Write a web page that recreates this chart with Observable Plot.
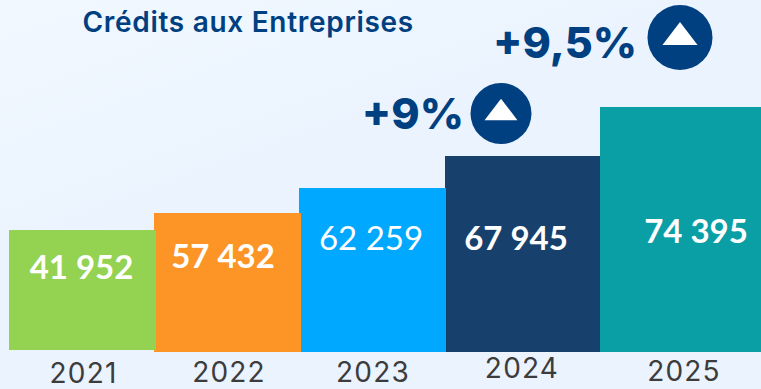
<!DOCTYPE html>
<html><head><meta charset="utf-8">
<script src="https://cdn.jsdelivr.net/npm/d3@7"></script>
<script src="https://cdn.jsdelivr.net/npm/@observablehq/plot@0.6"></script>
<style>
html,body{margin:0;padding:0;background:#eaf3fe}
svg{display:block;background:linear-gradient(160deg,#f1f8ff 0%,#eaf3fe 45%,#eaf3fe 100%)}
</style></head><body>
<script>
const titleText = "Crédits aux Entreprises";
const years = [2021, 2022, 2023, 2024, 2025];
const credits = [41952, 57432, 62259, 67945, 74395];
const labels = ["41 952", "57 432", "62 259", "67 945", "74 395"];
const colors = ["#94d351", "#fd9426", "#00a8ff", "#17406d", "#0a9ea5"];
const growthYears = [2024, 2025];
const growthLabels = ["+9%", "+9,5%"];

const table = years.map((year, i) => ({year, credit: credits[i], label: labels[i], color: colors[i]}));
const growth = growthYears.map((year, i) => ({year, credit: credits[years.indexOf(year)], label: growthLabels[i]}));

// layout tweaks (the picture's bars overlap and its labels sit off-centre)
const barLayout = [
  {insetLeft: 0, insetRight: -1, insetBottom: 2},
  {insetLeft: -1, insetRight: -1, insetBottom: 0},
  {insetLeft: -1, insetRight: -1, insetBottom: 0},
  {insetLeft: 0, insetRight: 0, insetBottom: 0},
  {insetLeft: 0, insetRight: 0, insetBottom: 0}
];
const labelOffset = [[-1, 38], [-5, 44], [-2, 51], [-7, 83], [15, 125]];
const yearOffset = [[1, 144], [1, 160], [0, 185], [-1, 213], [3, 265]];
const growthLayout = [
  {dot: [-22, -43], r: 30.5, text: [-37, -41], size: 43},
  {dot: [-1, -70], r: 32.5, text: [-43, -63], size: 43}
];

const triangle = {draw(ctx, size) {
  const r = Math.sqrt(size / Math.PI);
  ctx.moveTo(0, -r * 0.66);
  ctx.lineTo(r, r * 0.66);
  ctx.lineTo(-r, r * 0.66);
  ctx.closePath();
}};

const marks = [];
// drawn right to left: each bar's right edge lies over its neighbour
[4, 3, 2, 1, 0].forEach(i => marks.push(Plot.rectY([table[i]], {
  x1: d => d.year - 0.5, x2: d => d.year + 0.5, y1: 0, y2: "credit", fill: "color", ...barLayout[i]
})));
table.forEach((d, i) => {
  marks.push(Plot.text([d], {
    x: "year", y: "credit", text: "label", dx: labelOffset[i][0], dy: labelOffset[i][1],
    fill: "white", fontFamily: "Lato", fontSize: 33, fontWeight: i === 2 ? 400 : 700
  }));
  marks.push(Plot.text([d], {
    x: "year", y: "credit", text: d => String(d.year), dx: yearOffset[i][0], dy: yearOffset[i][1],
    fill: "#3c3c3c", fontFamily: "Inter", fontSize: 28, fontWeight: 400
  }));
});
growth.forEach((d, i) => {
  const g = growthLayout[i];
  marks.push(Plot.dot([d], {x: "year", y: "credit", r: g.r, fill: "#003f80", dx: g.dot[0], dy: g.dot[1]}));
  marks.push(Plot.dot([d], {x: "year", y: "credit", r: g.r * 0.54, symbol: triangle, fill: "white", dx: g.dot[0], dy: g.dot[1] - 4}));
  marks.push(Plot.text([d], {
    x: "year", y: "credit", text: "label", textAnchor: "end", dx: g.dot[0] + g.text[0], dy: g.text[1],
    fill: "#003f80", fontFamily: "Inter", fontSize: g.size, fontWeight: 800
  }));
});
marks.push(Plot.text([titleText], {
  frameAnchor: "top-left", dx: 82, dy: 23, lineAnchor: "middle", text: d => d,
  fill: "#003f80", fontFamily: "Inter", fontSize: 28, fontWeight: 600
}));

const chart = Plot.plot({
  width: 761, height: 389, margin: 0,
  x: {type: "linear", axis: null,
      domain: [2020.5, 2021.5, 2022.5, 2023.5, 2024.5, 2025.5],
      range: [9, 155, 300, 445, 600, 761]},
  y: {type: "linear", axis: null,
      domain: [0, 41952, 57432, 62259, 67945, 74395],
      range: [352, 230, 213, 188, 156, 107]},
  marks
});
d3.select(chart).selectAll("text").each(function () {
  const t = this.textContent;
  if (t === titleText) this.style.letterSpacing = "0.7px";
  else if (years.map(String).includes(t)) this.style.letterSpacing = "1.2px";
});
document.body.append(chart);
</script>
</body></html>
